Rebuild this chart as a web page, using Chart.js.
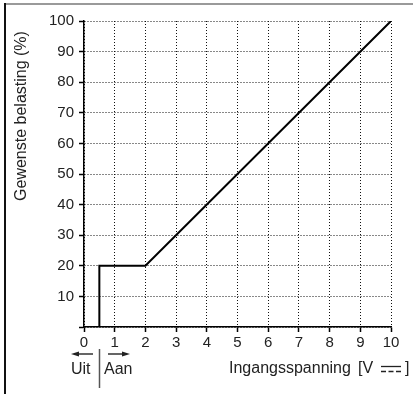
<!DOCTYPE html>
<html>
<head>
<meta charset="utf-8">
<script src="https://cdn.jsdelivr.net/npm/chart.js@4/dist/chart.umd.min.js"></script>
<style>
  html, body { margin: 0; padding: 0; background: #fff; }
  #wrap { position: relative; width: 413px; height: 394px; }
</style>
</head>
<body>
<div id="wrap"><canvas id="belastingChart" width="413" height="394"></canvas></div>
<script>
// Ingangsspanning (V) en gewenste belasting (%)
var spanning  = [0, 0.5, 0.5, 2, 10];
var belasting = [0, 0, 20, 20, 100];

var xTicks = [0, 1, 2, 3, 4, 5, 6, 7, 8, 9, 10];
var yTicks = [10, 20, 30, 40, 50, 60, 70, 80, 90, 100];

var yTitel = 'Gewenste belasting (%)';
var xTitel = 'Ingangsspanning';
var uitLabel = 'Uit';
var aanLabel = 'Aan';

var FONT = '"Liberation Sans", Arial, sans-serif';

// extra tekeningen: kader, aslabels, Uit/Aan pijlen en DC-symbool
var extras = {
    id: 'extras',
    afterDraw: function (chart) {
        var ctx = chart.ctx;
        var xs = chart.scales.x;
        ctx.save();

        // kader links en boven
        ctx.strokeStyle = '#9a9a9a';
        ctx.lineWidth = 2;
        ctx.beginPath();
        ctx.moveTo(5, 4);
        ctx.lineTo(413, 4);
        ctx.stroke();
        ctx.strokeStyle = '#111';
        ctx.beginPath();
        ctx.moveTo(5, 3);
        ctx.lineTo(5, 394);
        ctx.stroke();

        // y-as titel
        ctx.fillStyle = '#222';
        ctx.font = '16px ' + FONT;
        ctx.textAlign = 'center';
        ctx.textBaseline = 'middle';
        ctx.save();
        ctx.translate(22, 116);
        ctx.rotate(-Math.PI / 2);
        ctx.fillText(yTitel, 0, 0);
        ctx.restore();

        // x-as titel met gelijkspanningsteken
        ctx.textAlign = 'left';
        ctx.fillText(xTitel, 229, 369);
        ctx.fillText('[V', 358, 369);
        ctx.fillText(']', 405, 369);
        ctx.strokeStyle = '#222';
        ctx.lineWidth = 1.3;
        ctx.beginPath();
        ctx.moveTo(381, 366.5);
        ctx.lineTo(401, 366.5);
        ctx.stroke();
        ctx.setLineDash([5, 2.5]);
        ctx.beginPath();
        ctx.moveTo(381, 371.5);
        ctx.lineTo(401, 371.5);
        ctx.stroke();
        ctx.setLineDash([]);

        // scheiding Uit / Aan bij het schakelpunt
        var xs0 = Math.round(xs.getPixelForValue(spanning[1])) + 0.5;
        ctx.strokeStyle = '#555';
        ctx.lineWidth = 1.5;
        ctx.beginPath();
        ctx.moveTo(xs0, 349);
        ctx.lineTo(xs0, 388);
        ctx.stroke();

        // pijlen
        ctx.strokeStyle = '#333';
        ctx.fillStyle = '#222';
        ctx.lineWidth = 1.5;
        ctx.beginPath();
        ctx.moveTo(78, 354);
        ctx.lineTo(93, 354);
        ctx.moveTo(108, 354);
        ctx.lineTo(123, 354);
        ctx.stroke();
        ctx.beginPath();
        ctx.moveTo(71, 354);
        ctx.lineTo(79, 351.5);
        ctx.lineTo(79, 356.5);
        ctx.closePath();
        ctx.fill();
        ctx.beginPath();
        ctx.moveTo(130, 354);
        ctx.lineTo(122, 351.5);
        ctx.lineTo(122, 356.5);
        ctx.closePath();
        ctx.fill();

        ctx.font = '16px ' + FONT;
        ctx.textAlign = 'left';
        ctx.fillText(uitLabel, 71, 370);
        ctx.fillText(aanLabel, 104, 370);

        ctx.restore();
    }
};

var ctx = document.getElementById('belastingChart').getContext('2d');
var belastingChart = new Chart(ctx, {
    type: 'line',
    data: {
        datasets: [{
            label: 'Gewenste belasting',
            data: spanning.map(function (v, i) { return { x: v, y: belasting[i] }; }),
            borderColor: '#000',
            borderWidth: 2,
            pointRadius: 0,
            tension: 0,
            fill: false
        }]
    },
    options: {
        responsive: false,
        animation: false,
        layout: { padding: { left: 0, top: 21, right: 22, bottom: 0 } },
        plugins: {
            legend: { display: false },
            tooltip: { enabled: false }
        },
        scales: {
            x: {
                type: 'linear',
                min: 0,
                max: 10,
                afterFit: function (scale) { scale.height = 67; },
                afterBuildTicks: function (scale) {
                    scale.ticks = xTicks.map(function (v) { return { value: v }; });
                },
                ticks: {
                    color: '#222',
                    font: { family: FONT, size: 15 },
                    padding: 2,
                    maxRotation: 0,
                    autoSkip: false
                },
                grid: {
                    color: '#111',
                    lineWidth: 1,
                    tickLength: 5,
                    tickColor: '#000',
                    tickWidth: 1.5
                },
                border: { display: true, color: '#000', width: 1.5, dash: [1, 2] }
            },
            y: {
                min: 0,
                max: 100,
                afterFit: function (scale) { scale.width = 84; },
                afterBuildTicks: function (scale) {
                    scale.ticks = [0].concat(yTicks).map(function (v) { return { value: v }; });
                },
                ticks: {
                    color: '#222',
                    font: { family: FONT, size: 15 },
                    padding: 5,
                    autoSkip: false,
                    callback: function (v) { return v === 0 ? '' : v; }
                },
                grid: {
                    color: '#111',
                    lineWidth: 1,
                    tickLength: 5,
                    tickColor: '#000',
                    tickWidth: 1.5
                },
                border: { display: true, color: '#000', width: 1.5, dash: [1, 2] }
            }
        }
    },
    plugins: [extras]
});
</script>
</body>
</html>
